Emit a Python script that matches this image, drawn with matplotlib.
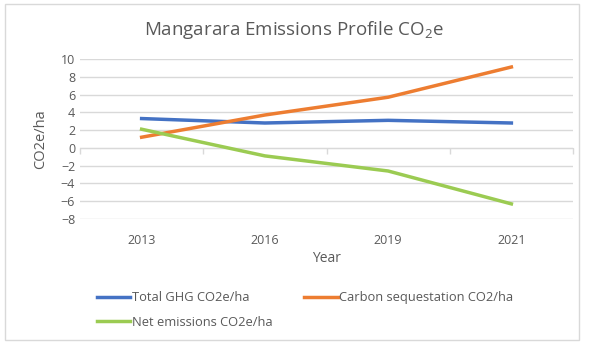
import matplotlib.pyplot as plt
from matplotlib.patches import Rectangle

plt.rcParams['font.family'] = ['Open Sans', 'DejaVu Sans']
plt.rcParams['mathtext.fontset'] = 'custom'
plt.rcParams['mathtext.rm'] = 'Open Sans'

years = ['2013', '2016', '2019', '2021']
total_ghg = [3.3, 2.8, 3.1, 2.8]
sequestration = [1.2, 3.7, 5.7, 9.1]
net_emissions = [2.1, -0.9, -2.6, -6.3]

text_col = '#595959'
grid_col = '#D9D9D9'

fig = plt.figure(figsize=(6, 3.51), dpi=100)
fig.patches.append(Rectangle((5 / 600, 1 - 340 / 351), 574 / 600, 336 / 351,
                             transform=fig.transFigure, fill=False,
                             edgecolor=grid_col, linewidth=1))

ax = fig.add_axes([80 / 600, 1 - 219 / 351, 493 / 600, 160 / 351])
x = range(len(years))
l1, = ax.plot(x, total_ghg, color='#4472C4', lw=2.5, label='Total GHG CO2e/ha')
l2, = ax.plot(x, sequestration, color='#ED7D31', lw=2.5, label='Carbon sequestation CO2/ha')
l3, = ax.plot(x, net_emissions, color='#9BCB52', lw=2.5, label='Net emissions CO2e/ha')

ax.set_xlim(-0.5, 3.5)
ax.set_ylim(-8, 10)
ax.set_yticks(range(-8, 11, 2))
ax.set_xticks(list(x))
ax.set_xticklabels(years)
ax.grid(axis='y', color=grid_col, lw=1)
ax.set_axisbelow(True)
for s in ax.spines.values():
    s.set_visible(False)
ax.tick_params(length=0, colors=text_col, labelsize=9)
ax.tick_params(axis='x', pad=11)

# horizontal axis line at zero with tick marks between categories
sec = ax.secondary_xaxis(8 / 18)
sec.set_xticks([-0.5, 0.5, 1.5, 2.5, 3.5])
sec.set_xticklabels([])
sec.tick_params(direction='out', length=4, color=grid_col, width=1)
sec.spines['bottom'].set_color(grid_col)

ax.set_xlabel('Year', color=text_col, fontsize=10, labelpad=3)
ax.set_ylabel('CO2e/ha', color=text_col, fontsize=10.5, labelpad=9)

fig.text(0.49, 1 - 30 / 351, 'Mangarara Emissions Profile CO$_2$e',
         ha='center', va='center', fontsize=13.5, color=text_col)

fig.legend([l1, l3, l2], [l1.get_label(), l3.get_label(), l2.get_label()],
           ncol=2, loc='center left', bbox_to_anchor=(85 / 600, 1 - 310 / 351),
           frameon=False, fontsize=9.3, labelcolor=text_col, handlelength=2.6,
           handletextpad=0.1, columnspacing=2.5, labelspacing=0.9)

fig.savefig('out.png', dpi=100)
